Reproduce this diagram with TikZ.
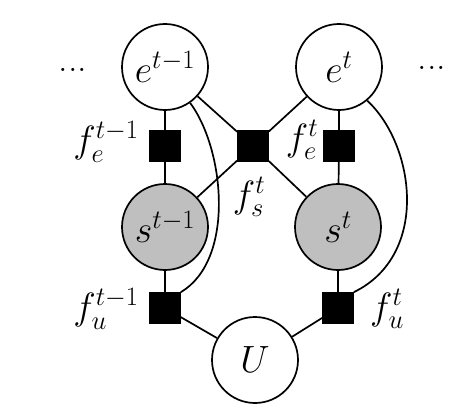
\RequirePackage{fix-cm}
\documentclass[tikz,border=0pt]{standalone}
\begin{document}
\begin{tikzpicture}[x=1pt,y=-1pt,line width=1.7pt,
  var/.style={circle,draw,minimum size=86pt,inner sep=0pt,font=\fontsize{38}{44}\selectfont},
  obs/.style={var,fill=black!25},
  fac/.style={rectangle,draw,fill=black,minimum size=30pt,inner sep=0pt},
  lab/.style={font=\fontsize{38}{44}\selectfont,inner sep=0pt}]
\useasboundingbox (0,0) rectangle (470,412);
\node[var] (et1) at (165,67) {$e^{t-1}$};
\node[var] (et) at (339,67) {$e^{t}$};
\node[obs] (st1) at (165,227) {$s^{t-1}$};
\node[obs] (st) at (338,227) {$s^{t}$};
\node[var] (U) at (255,360) {$U$};
\node[fac] (fe1) at (165,146) {};
\node[fac] (fe) at (339,146) {};
\node[fac] (fs) at (253,146) {};
\node[fac] (fu1) at (165,308) {};
\node[fac] (fu) at (338,308) {};
\node[lab] (d1) at (73,70) {...};
\node[lab] (d2) at (432,68) {...};
\node[lab] (lfe1) at (106,142) {$f_e^{t-1}$};
\node[lab] (lfe) at (302,140) {$f_e^{t}$};
\node[lab] (lfs) at (249,197) {$f_s^{t}$};
\node[lab] (lfu1) at (106,309) {$f_u^{t-1}$};
\node[lab] (lfu) at (387,309) {$f_u^{t}$};
\draw (et1) -- (fe1) -- (st1) -- (fu1) -- (U) -- (fu) -- (st) -- (fe) -- (et);
\draw (et1) -- (fs) -- (et);
\draw (st1) -- (fs) -- (st);
\draw (et1.-55) .. controls (225,150) and (235,260) .. (fu1.north east);
\draw (et.-50) .. controls (415,145) and (430,255) .. (fu.north east);
\end{tikzpicture}
\end{document}
